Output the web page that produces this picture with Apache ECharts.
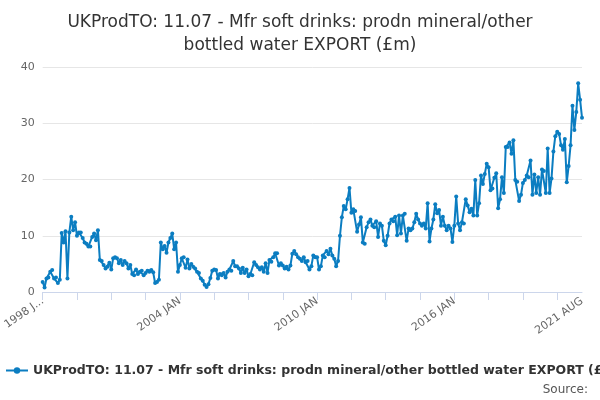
<!DOCTYPE html>
<html><head><meta charset="utf-8">
<script src="https://cdn.jsdelivr.net/npm/echarts@6/dist/echarts.min.js"></script>
<style>html,body{margin:0;padding:0;background:#fff}#c{width:600px;height:400px}</style>
</head><body><div id="c"></div>
<script>
const MONTHS=['JAN','FEB','MAR','APR','MAY','JUN','JUL','AUG','SEP','OCT','NOV','DEC'];
const startYear=1998;
const values=[
1.8,0.8,2.4,2.6,3.6,3.9,2.4,2.6,1.6,2.2,10.5,8.8,
10.8,2.4,10.6,13.4,11,12.4,10,10.6,10.6,9.6,8.8,8.6,
8.1,8.1,9.8,10.4,9.2,11,5.7,5.5,4.8,4.2,4.5,5.2,
4.0,6,6.2,6,5.1,5.7,4.8,5.5,5.1,4.2,4.8,3.2,
3.0,4,3.2,3.6,3.8,3.0,3.4,3.8,3.6,3.9,3.5,1.6,
1.8,2.2,8.8,7.6,8.2,7,8.8,9.6,10.4,7.6,8.8,3.6,
4.8,6,6.2,4.3,5.8,4.2,5.0,4.5,4.2,3.6,3.4,2.4,
2.0,1.3,0.9,1.4,2.5,3.8,4.0,3.9,2.4,3.2,3.0,3.4,
2.6,3.6,4.0,3.8,5.5,4.6,4.6,4.2,3.4,4.3,3.4,4.0,
2.8,3.2,3.0,5.3,4.8,4.4,4,4.4,3.6,5.1,3.4,5.7,
5.4,6.2,6.9,6.9,4.7,5.1,4.7,4.2,4.5,4.0,4.7,6.8,
7.3,6.7,6.2,5.9,5.5,6.2,5.3,5.5,4.0,4.6,6.5,6.2,
6.2,4.0,4.6,6.5,6.2,7.3,6.7,7.7,6.5,5.9,4.6,5.5,
10,13.3,15.3,14.7,16.5,18.5,14.1,14.7,14.4,10.7,12.0,13.3,
8.8,8.6,11.5,12.4,12.9,11.8,11.5,12.6,9.8,12.2,11.8,9.1,
8.3,10,12.2,12.9,12.6,13.4,10.1,13.6,10.4,13.6,13.9,9.1,
11.3,11,11.3,12.4,13.9,12.9,12.2,11.8,12.2,11.3,15.8,9.0,
11.3,12.9,15.6,14,14.6,11.8,13.4,11.8,11,11.8,11.3,8.9,
11.8,17,12.2,11,12.4,12.2,16.5,15.4,14.2,14.8,13.6,19.9,
13.6,15.8,20.7,19.2,21,22.8,22.2,18.1,18.4,20.3,21.1,14.9,
16.5,20.4,17.6,25.8,25.8,26.6,24.6,27,19.9,19.6,16.2,17.3,
19.4,19.9,20.7,20.4,23.4,17.3,20.9,17.6,20.4,17.3,21.8,21.5,
17.6,25.5,17.6,20.2,25,27.7,28.5,28.1,26.1,25.3,27.2,19.5,
22.4,26.1,33.1,28.8,32,37.1,34.2,31
];
const categories=values.map((v,i)=>(startYear+Math.floor(i/12))+' '+MONTHS[i%12]);
const yTicks=[0,10,20,30,40];
const seriesName='UKProdTO: 11.07 - Mfr soft drinks: prodn mineral/other bottled water EXPORT (£m)';
const last=categories.length-1;
const chart=echarts.init(document.getElementById('c'));
chart.setOption({
  animation:false,
  title:{text:'UKProdTO: 11.07 - Mfr soft drinks: prodn mineral/other\nbottled water EXPORT (£m)',left:'center',top:6,
    textStyle:{fontFamily:'DejaVu Sans',fontSize:17,fontWeight:'normal',color:'#333',lineHeight:23}},
  graphic:[{type:'text',right:12,bottom:4,style:{text:'Source:',font:'12px DejaVu Sans',fill:'#555'}}],
  legend:{bottom:18,left:0,itemWidth:22,itemHeight:8,textStyle:{fontFamily:'DejaVu Sans',fontSize:12.5,fontWeight:'bold',color:'#333'},data:[seriesName]},
  grid:{left:39,right:18,top:67,bottom:108},
  xAxis:{type:'category',data:categories,boundaryGap:false,
    axisLine:{lineStyle:{color:'#ccd6eb'}},
    axisTick:{interval:17,lineStyle:{color:'#ccd6eb'},length:8},
    axisLabel:{interval:(i)=>i%72===0||i===last,rotate:35,color:'#666',fontFamily:'DejaVu Sans',fontSize:11,
      formatter:(v,i)=>i===0?'1998 J...':v}},
  yAxis:{type:'value',min:0,max:40,interval:10,
    axisLabel:{color:'#666',fontFamily:'DejaVu Sans',fontSize:11},
    splitLine:{lineStyle:{color:'#e6e6e6'}},axisLine:{show:false},axisTick:{show:false}},
  series:[{name:seriesName,type:'line',data:values,symbol:'circle',symbolSize:4,showAllSymbol:true,
    lineStyle:{width:2,color:'#0b7dc1'},itemStyle:{color:'#0b7dc1'}}]
});
</script></body></html>
